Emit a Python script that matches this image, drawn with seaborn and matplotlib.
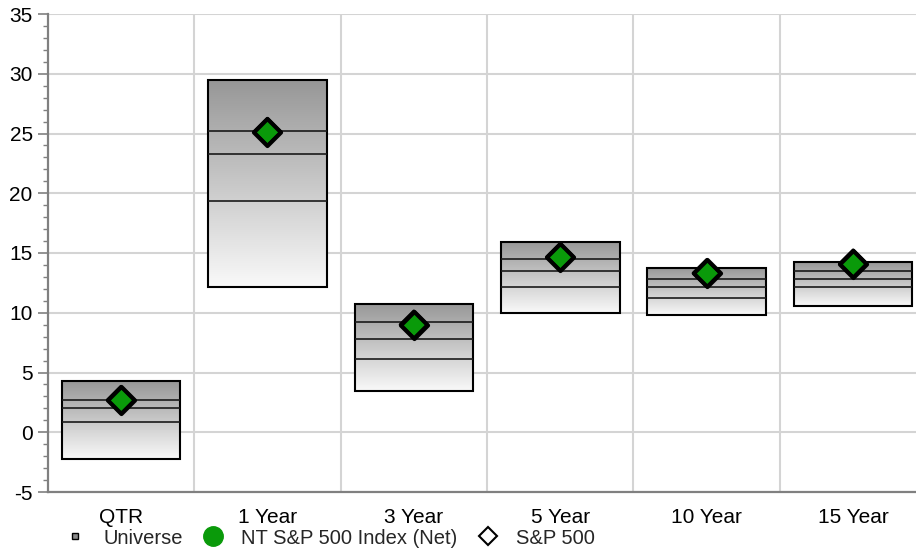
import numpy as np
import pandas as pd
import matplotlib
matplotlib.use("Agg")
import matplotlib.pyplot as plt
from matplotlib.colors import LinearSegmentedColormap
from matplotlib.lines import Line2D
from matplotlib.patches import Rectangle
import seaborn as sns

# Universe percentile ranges (5th, 25th, median, 75th, 95th) per period
periods = ["QTR", "1 Year", "3 Year", "5 Year", "10 Year", "15 Year"]
p05 = [-2.23, 12.16, 3.43, 9.96, 9.77, 10.60]
p25 = [0.84, 19.36, 6.11, 12.13, 11.27, 12.16]
p50 = [2.03, 23.32, 7.84, 13.47, 12.13, 12.80]
p75 = [2.74, 25.19, 9.23, 14.50, 12.80, 13.47]
p95 = [4.27, 29.46, 10.77, 15.93, 13.72, 14.23]
fund = [2.70, 25.13, 9.01, 14.67, 13.31, 14.12]
index = [2.70, 25.13, 9.01, 14.67, 13.31, 14.12]

df = pd.DataFrame({"period": periods, "p05": p05, "p25": p25, "p50": p50,
                   "p75": p75, "p95": p95, "fund": fund, "index": index})
df["x"] = np.arange(len(df))

sns.set_style("white")
plt.rcParams["font.family"] = ["Liberation Sans", "DejaVu Sans"]
plt.rcParams["font.size"] = 15
plt.rcParams["axes.unicode_minus"] = False

fig = plt.figure(figsize=(9.16, 5.51), dpi=100)
ax = fig.add_axes([47.7 / 916, 59 / 551, 878.7 / 916, 478 / 551])

grid_c = "#d4d4d4"
axis_c = "#808080"
box_w = 0.81

# gradient fill for each box, dark at the top fading to white
cmap = LinearSegmentedColormap.from_list("boxfill", ["#f9f9f9", "#979797"])
grad = np.linspace(0, 1, 256).reshape(-1, 1)
for _, r in df.iterrows():
    x0, x1 = r.x - box_w / 2, r.x + box_w / 2
    im = ax.imshow(grad, extent=[x0, x1, r.p05, r.p95], origin="lower",
                   cmap=cmap, aspect="auto", zorder=2, interpolation="bilinear")
    rect = Rectangle((x0, r.p05), box_w, r.p95 - r.p05, facecolor="none",
                     edgecolor="black", linewidth=1.5, zorder=3)
    ax.add_patch(rect)
    im.set_clip_path(rect)
    ax.hlines([r.p25, r.p50, r.p75], x0, x1, colors="#1a1a1a",
              linewidth=1.2, zorder=3)

# fund marker, with the benchmark outline drawn on top
sns.scatterplot(data=df, x="x", y="fund", marker="D", s=190, color="#0a9a0a",
                edgecolor="black", linewidth=3, zorder=5, ax=ax, legend=False)
sns.scatterplot(data=df, x="x", y="index", marker="D", s=190, facecolor="none",
                edgecolor="black", linewidth=2.2, zorder=6, ax=ax, legend=False)

ax.set_xlim(-0.5, 5.5)
ax.set_ylim(-5, 35)
ax.set_xlabel("")
ax.set_ylabel("")

ax.set_yticks(np.arange(-5, 36, 5))
ax.set_yticks(np.arange(-5, 36, 1), minor=True)
ax.set_xticks(df["x"])
ax.set_xticklabels(periods)
ax.set_xticks(np.arange(-0.5, 5.6, 1), minor=True)

ax.tick_params(axis="x", which="major", length=0, pad=11.5, labelsize=15, colors="black")
ax.tick_params(axis="x", which="minor", length=6, width=1.2, color=axis_c, direction="out")
ax.tick_params(axis="y", which="major", length=7.2, width=1.2, color=axis_c,
               pad=3.6, labelsize=15, labelcolor="black", direction="out", left=True)
ax.tick_params(axis="y", which="minor", length=3.8, width=1.0, color=axis_c,
               direction="out", left=True)

ax.grid(False)
for yv in np.arange(-5, 36, 5):
    ax.axhline(yv, color=grid_c, linewidth=1.5, zorder=0)
for xv in np.arange(0.5, 5.6, 1):
    ax.axvline(xv, color=grid_c, linewidth=1.5, zorder=0)

for s in ["top", "right"]:
    ax.spines[s].set_visible(False)
for s in ["left", "bottom"]:
    ax.spines[s].set_color(axis_c)
    ax.spines[s].set_linewidth(1.6)
    ax.spines[s].set_zorder(4)

handles = [
    Line2D([], [], linestyle="none", marker="s", markersize=4.5,
           markerfacecolor="#8a8a8a", markeredgecolor="black", markeredgewidth=1),
    Line2D([], [], linestyle="none", marker="o", markersize=14,
           markerfacecolor="#0a9a0a", markeredgecolor="#0a9a0a"),
    Line2D([], [], linestyle="none", marker="D", markersize=9,
           markerfacecolor="white", markeredgecolor="black", markeredgewidth=1.5),
]
labels = ["Universe", "NT S&P 500 Index (Net)", "S&P 500"]
fig.legend(handles, labels, loc="center left", bbox_to_anchor=(65 / 916, 1 - 538 / 551),
           ncol=3, frameon=False, fontsize=14.5, handlelength=1.0,
           handletextpad=0.9, columnspacing=1.0, borderaxespad=0, borderpad=0)

fig.savefig("out.png", dpi=100)
